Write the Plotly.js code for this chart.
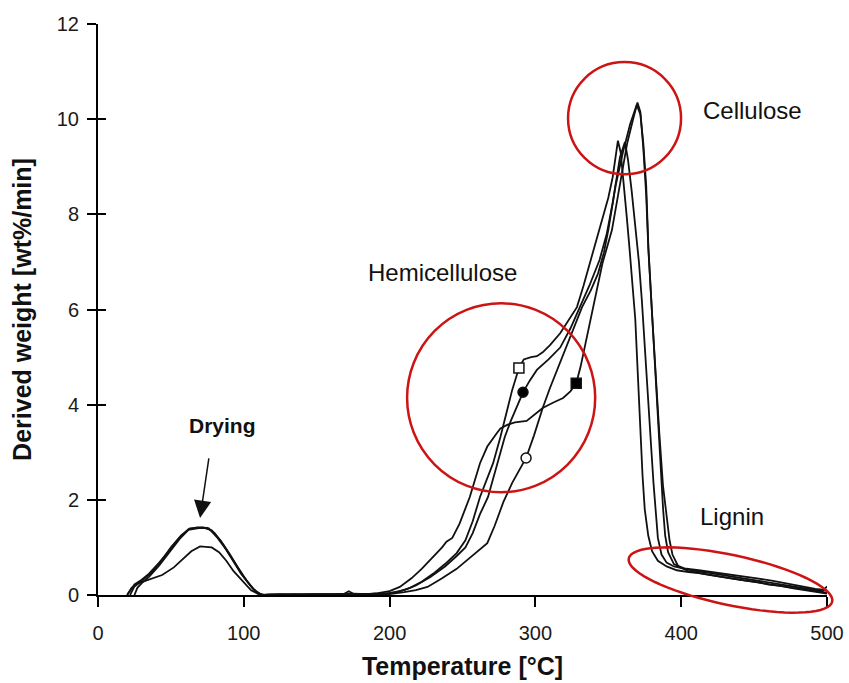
<!DOCTYPE html>
<html>
<head>
<meta charset="utf-8">
<script src="https://cdn.plot.ly/plotly-3.0.1.min.js"></script>
<style>html,body{margin:0;padding:0;background:#fff;}#chart{width:849px;height:683px;}</style>
</head>
<body>
<div id="chart"></div>
<script>
// ---- Data ----
const xTicks = [0, 100, 200, 300, 400, 500];
const yTicks = [0, 2, 4, 6, 8, 10, 12];

// Curve A (open square marker)
const tempA = [20,22,25,30,35,42,50,56,62,68,75,80,86,92,98,104,108,112,
  120,135,150,165,180,190,
  197,205,214,222,230,238,246,252,257,262,267,271,276,280,284,288.7,
  292,297,301,305,310,317,323,328.5,333,337.4,342,346,350,353,356.6,
  358.5,360.5,362.5,364.5,366.5,368.5,370,371.7,373.5,375,377.4,380,384,390,
  397,405,412,420,428,436,444,452,460,468,476,484,492,500];
const rateA = [0,0.1,0.22,0.32,0.45,0.68,0.98,1.2,1.38,1.42,1.41,1.3,1.05,0.74,0.45,0.22,0.08,0,
  0.01,0.02,0,0.02,0.01,0.02,
  0.03,0.06,0.15,0.28,0.45,0.65,0.88,1.15,1.55,2.06,2.45,2.77,3.32,3.8,4.3,4.77,
  4.95,5.0,5.02,5.1,5.25,5.5,5.78,6.05,6.5,6.97,7.45,7.88,8.35,8.78,9.55,
  9.3,8.7,8.0,7.3,6.6,5.8,4.8,3.6,2.5,1.8,1.25,0.92,0.72,0.6,
  0.52,0.48,0.46,0.42,0.38,0.33,0.3,0.27,0.22,0.19,0.15,0.12,0.08,0.05];

// Curve B (filled circle marker)
const tempB = [25,27,30,35,42,50,56,62,70,76,82,88,94,100,106,111,114,
  125,140,155,168,172,176,185,193,
  200,210,218,228,238,246,252,257,262,267.5,271,274,279,283,287,291.5,
  296,301,309,317,324,330.6,337,344,349,353,356,358,361.4,
  363.5,366,368.5,371,373,375,377,379,381,382.5,384,386.5,390,395,
  402,410,418,426,434,442,450,458,466,474,482,490,497,500];
const rateB = [0,0.15,0.25,0.38,0.62,0.95,1.18,1.37,1.41,1.4,1.2,0.95,0.65,0.38,0.14,0.02,0,
  0.02,0,0.02,0.01,0.08,0.01,0.02,0.03,
  0.04,0.1,0.2,0.38,0.6,0.82,1.0,1.3,1.7,2.06,2.45,2.77,3.32,3.65,3.95,4.26,
  4.5,4.73,4.95,5.2,5.6,6.05,6.5,7.04,7.6,8.24,8.8,9.2,9.52,
  9.15,8.5,7.8,7.0,6.2,5.3,4.3,3.3,2.35,1.7,1.2,0.85,0.68,0.6,
  0.55,0.5,0.47,0.43,0.4,0.36,0.32,0.28,0.24,0.2,0.16,0.12,0.08,0.18];

// Curve C (filled square marker, shoulder, tallest peak)
const tempC = [22,25,30,36,43,50,57,63,72,78,84,90,96,102,108,113,
  118,130,145,160,175,185,
  192,200,207,215,222,230,236,239,243,248,255,262,267,273.5,276,281,286,294,300,305,312,319,324,328,
  331,335,341,346,352.5,358,363,367,370,
  372,374,376,377.5,379.5,381.5,383.5,385.5,387.6,389,391,395,
  402,412,422,432,442,452,462,472,482,492,500];
const rateC = [0,0.18,0.3,0.45,0.7,1.0,1.25,1.4,1.42,1.36,1.15,0.88,0.58,0.3,0.08,0,
  0.01,0,0.02,0.01,0.03,0.02,
  0.04,0.08,0.17,0.35,0.55,0.8,1.0,1.12,1.2,1.5,2.06,2.77,3.12,3.4,3.5,3.58,3.63,3.66,3.8,3.93,4.04,4.14,4.28,4.45,
  4.8,5.36,6.26,6.97,7.67,8.66,9.5,10.0,10.35,
  10.15,9.4,8.4,7.25,6.2,5.1,3.9,2.8,1.8,1.25,0.9,0.65,
  0.56,0.52,0.48,0.44,0.4,0.35,0.3,0.24,0.18,0.13,0.1];

// Curve D (open circle marker, lowest drying peak)
const tempD = [20,23,28,35,44,52,58,64,70,78,83,88,93,99,105,110,114,
  122,138,152,166,180,192,
  200,210,218,226,236,246,254,261,267,272,278,284,289,293.6,
  299,305,310,315,320,326,332,338,343,347,350,355,360,365,369.5,
  372,374,376,377.5,380,382.5,385,387.5,390,392,394,398,
  405,414,423,432,441,450,459,468,477,486,494,500];
const rateD = [0,0.15,0.25,0.33,0.42,0.58,0.75,0.92,1.02,1.0,0.9,0.72,0.5,0.3,0.1,0.02,0,
  0,0.01,0.02,0,0.01,0.02,
  0.02,0.06,0.1,0.17,0.35,0.55,0.75,0.92,1.09,1.45,1.95,2.35,2.62,2.88,
  3.35,3.93,4.35,4.73,5.15,5.57,6.05,6.4,6.76,7.2,7.67,8.6,9.3,9.9,10.3,
  10.1,9.5,8.6,7.3,5.9,4.6,3.4,2.3,1.6,1.15,0.85,0.6,
  0.5,0.45,0.4,0.36,0.32,0.28,0.24,0.19,0.14,0.1,0.06,0.03];

// Marker points (one per curve)
const markerTemp = [288.7, 291.5, 328, 293.6];
const markerRate = [4.77, 4.26, 4.45, 2.88];
const markerSymbols = ['square', 'circle', 'square', 'circle'];
const markerFills = ['white', 'black', 'black', 'white'];

// Region labels
const regionLabels = ['Cellulose', 'Hemicellulose', 'Lignin'];
const regionLabelTemp = [448.6, 236.6, 434.8];
const regionLabelRate = [10.19, 6.77, 1.64];
const dryingLabel = 'Drying';

// ---- Traces ----
const lineStyle = {color: '#111', width: 1.8};
const curves = [[tempA, rateA], [tempB, rateB], [tempC, rateC], [tempD, rateD]];
const traces = curves.map(c => ({
  x: c[0], y: c[1], type: 'scatter', mode: 'lines',
  line: lineStyle, hoverinfo: 'skip', showlegend: false
}));
traces.push({
  x: markerTemp, y: markerRate, type: 'scatter', mode: 'markers',
  marker: {symbol: markerSymbols, color: markerFills, size: 10,
           line: {color: '#111', width: 1.5}},
  showlegend: false, hoverinfo: 'skip'
});
// empty trace to carry the inner-tick overlay axis
traces.push({x: [], y: [], yaxis: 'y2', type: 'scatter', mode: 'lines', showlegend: false});

// ---- Layout geometry ----
const W = 849, H = 683, ML = 98, MR = 22, MT = 24, MB = 88;
const PW = W - ML - MR, PH = H - MT - MB;
const red = '#cc1414';

// rotated ellipse for lignin (paper coords)
function rotatedEllipse(cx, cy, a, b, deg) {
  const phi = deg * Math.PI / 180;
  let d = '';
  for (let i = 0; i <= 72; i++) {
    const t = i / 72 * 2 * Math.PI;
    const px = cx + a * Math.cos(t) * Math.cos(phi) - b * Math.sin(t) * Math.sin(phi);
    const py = cy + a * Math.cos(t) * Math.sin(phi) + b * Math.sin(t) * Math.cos(phi);
    const xp = (px - ML) / PW, yp = (H - MB - py) / PH;
    d += (i === 0 ? 'M' : 'L') + xp.toFixed(5) + ',' + yp.toFixed(5);
  }
  return d + 'Z';
}

const font = 'Liberation Sans, Arial, Helvetica, sans-serif';

const annotations = regionLabels.map((t, i) => ({
  x: regionLabelTemp[i], y: regionLabelRate[i], xref: 'x', yref: 'y',
  text: t, showarrow: false, font: {family: font, size: 24, color: '#111'}
}));
annotations.push({
  x: 85.7, y: 3.57, xref: 'x', yref: 'y', text: '<b>' + dryingLabel + '</b>',
  showarrow: false, font: {family: font, size: 21, color: '#111'}
});
annotations.push({
  x: 70, y: 1.62, xref: 'x', yref: 'y', text: '', showarrow: true,
  ax: 9, ay: -61, arrowhead: 2, arrowsize: 2.3, arrowwidth: 1.5,
  arrowcolor: '#111', standoff: 0
});

const layout = {
  width: W, height: H,
  margin: {l: ML, r: MR, t: MT, b: MB, pad: 0},
  paper_bgcolor: 'white', plot_bgcolor: 'white',
  font: {family: font, color: '#111'},
  showlegend: false,
  xaxis: {
    range: [0, 500], tickvals: xTicks, ticktext: xTicks.map(String),
    showline: true, linecolor: '#000', linewidth: 2,
    ticks: 'outside', ticklen: 10, tickwidth: 2, tickcolor: '#000',
    showgrid: false, zeroline: false, ticklabelstandoff: 9,
    tickfont: {family: font, size: 20, color: '#1a1a1a'},
    title: {text: '<b>Temperature [°C]</b>', font: {family: font, size: 25, color: '#111'}, standoff: 14},
    automargin: false, fixedrange: true
  },
  yaxis: {
    range: [0, 12], tickvals: yTicks, ticktext: yTicks.map(String),
    showline: true, linecolor: '#000', linewidth: 2,
    ticks: 'outside', ticklen: 9, tickwidth: 2, tickcolor: '#000',
    showgrid: false, zeroline: false, ticklabelstandoff: 4,
    tickfont: {family: font, size: 20, color: '#1a1a1a'},
    title: {text: '<b>Derived weight [wt%/min]</b>', font: {family: font, size: 25, color: '#111'}, standoff: 18},
    automargin: false, fixedrange: true
  },
  yaxis2: {
    range: [0, 12], tickvals: yTicks, overlaying: 'y', side: 'left', anchor: 'x',
    ticks: 'inside', ticklen: 8, tickwidth: 2, tickcolor: '#000',
    showticklabels: false, showline: false, showgrid: false, zeroline: false,
    fixedrange: true
  },
  shapes: [
    {type: 'circle', xref: 'x', yref: 'y', x0: 322.4, x1: 399.9, y0: 8.84, y1: 11.2,
     line: {color: red, width: 2.5}, layer: 'above'},
    {type: 'circle', xref: 'x', yref: 'y', x0: 212, x1: 341, y0: 2.16, y1: 6.13,
     line: {color: red, width: 2.5}, layer: 'above'},
    {type: 'path', xref: 'paper', yref: 'paper', path: rotatedEllipse(730.5, 580, 104, 25, 12),
     line: {color: red, width: 2.5}, layer: 'above'}
  ],
  annotations: annotations
};

Plotly.newPlot('chart', traces, layout, {displayModeBar: false, staticPlot: true});
</script>
</body>
</html>
